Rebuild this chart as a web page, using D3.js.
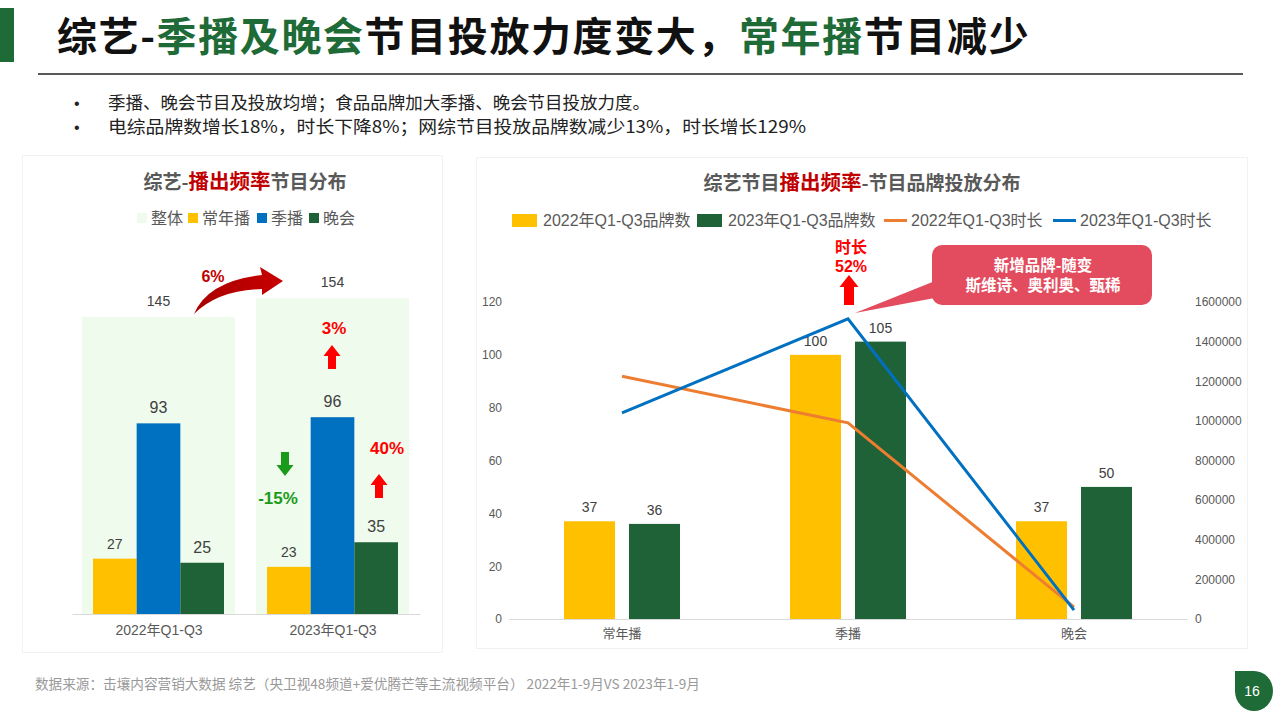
<!DOCTYPE html>
<html><head><meta charset="utf-8">
<script src="https://cdn.jsdelivr.net/npm/d3@7"></script>
<style>
body{margin:0;background:#fff;}
svg{display:block;}
text{font-family:"Liberation Sans","Noto Sans CJK SC",sans-serif;}
.cjk{font-family:"Noto Sans CJK SC","Liberation Sans",sans-serif;}
</style></head>
<body>
<svg id="c" width="1280" height="720"></svg>
<script>
// ---------- data ----------
const leftCategories = ["2022年Q1-Q3", "2023年Q1-Q3"];
const leftSeries = ["常年播", "季播", "晚会"];
const leftTotal = [145, 154];
const leftRegular = [27, 23];
const leftSeason = [93, 96];
const leftGala = [25, 35];

const rightCategories = ["常年播", "季播", "晚会"];
const brands2022 = [37, 100, 37];
const brands2023 = [36, 105, 50];
const duration2022 = [1225000, 990000, 60000];
const duration2023 = [1040000, 1515000, 45000];
const leftAxisTicks = [0, 20, 40, 60, 80, 100, 120];
const rightAxisTicks = [0, 200000, 400000, 600000, 800000, 1000000, 1200000, 1400000, 1600000];

const colors = {overall: "#effbec", regular: "#ffc000", season: "#0070c0", gala: "#1f6237",
  line22: "#ed7d31", line23: "#0070c0", green: "#1e6b37"};

const svg = d3.select("#c");

// ---------- header ----------
svg.append("rect").attr("x", 0).attr("y", 8).attr("width", 14).attr("height", 54).attr("fill", colors.green);
const title = svg.append("text").attr("class", "cjk").attr("x", 57).attr("y", 51)
  .attr("font-size", 40).attr("font-weight", 700).attr("letter-spacing", 1.6);
[["综艺-", "#111"], ["季播及晚会", colors.green], ["节目投放力度变大，", "#111"], ["常年播", colors.green], ["节目减少", "#111"]]
  .forEach(([t, c]) => title.append("tspan").attr("fill", c).text(t));
svg.append("line").attr("x1", 38).attr("x2", 1243).attr("y1", 74).attr("y2", 74).attr("stroke", "#222").attr("stroke-width", 1.5);

const bullets = ["季播、晚会节目及投放均增；食品品牌加大季播、晚会节目投放力度。",
  "电综品牌数增长18%，时长下降8%；网综节目投放品牌数减少13%，时长增长129%"];
const bulletLen = [542, 698];
bullets.forEach((b, i) => {
  svg.append("text").attr("x", 74).attr("y", 109 + i * 24).attr("font-size", 16).attr("fill", "#222").text("•");
  svg.append("text").attr("class", "cjk").attr("x", 108).attr("y", 109 + i * 24).attr("font-size", 17.5)
    .attr("textLength", bulletLen[i]).attr("lengthAdjust", "spacingAndGlyphs").attr("fill", "#222").text(b);
});

// ---------- panels ----------
svg.append("rect").attr("x", 22.5).attr("y", 155.5).attr("width", 420).attr("height", 497).attr("fill", "#fff").attr("stroke", "#f2f2f2");
svg.append("rect").attr("x", 476.5).attr("y", 157.5).attr("width", 771).attr("height", 491).attr("fill", "#fff").attr("stroke", "#f2f2f2");

// ---------- left chart ----------
const lt = svg.append("text").attr("class", "cjk").attr("x", 245).attr("y", 189).attr("text-anchor", "middle")
  .attr("font-size", 19).attr("font-weight", 700);
lt.append("tspan").attr("fill", "#595959").text("综艺-");
lt.append("tspan").attr("fill", "#c00000").attr("font-size", 20.5).text("播出频率");
lt.append("tspan").attr("fill", "#595959").text("节目分布");

const lLegend = [["整体", colors.overall, 137], ["常年播", colors.regular, 188], ["季播", colors.season, 257], ["晚会", colors.gala, 309]];
lLegend.forEach(([t, c, x]) => {
  svg.append("rect").attr("x", x).attr("y", 213).attr("width", 10).attr("height", 10).attr("fill", c);
  svg.append("text").attr("class", "cjk").attr("x", x + 14).attr("y", 224).attr("font-size", 16).attr("fill", "#595959").text(t);
});

const lx0 = d3.scaleBand().domain(leftCategories).range([72, 420]);
const lxOverall = d3.scaleBand().domain(["整体"]).range([10, lx0.bandwidth() - 11]);
const lx1 = d3.scaleBand().domain(leftSeries).range([21, 152]);
const ly = d3.scaleLinear().domain([0, 180]).range([614, 245]);

const lg = svg.append("g");
leftCategories.forEach((cat, i) => {
  const g = lg.append("g").attr("transform", `translate(${lx0(cat)},0)`);
  g.append("rect").attr("x", lxOverall("整体")).attr("width", lxOverall.bandwidth())
    .attr("y", ly(leftTotal[i])).attr("height", ly(0) - ly(leftTotal[i])).attr("fill", colors.overall);
  g.append("text").attr("x", lxOverall("整体") + lxOverall.bandwidth() / 2).attr("y", ly(leftTotal[i]) - 11)
    .attr("text-anchor", "middle").attr("font-size", 14).attr("fill", "#404040").text(leftTotal[i]);
  const vals = [leftRegular[i], leftSeason[i], leftGala[i]];
  const cols = [colors.regular, colors.season, colors.gala];
  leftSeries.forEach((s, j) => {
    g.append("rect").attr("x", lx1(s)).attr("width", lx1.bandwidth())
      .attr("y", ly(vals[j])).attr("height", ly(0) - ly(vals[j])).attr("fill", cols[j]);
    g.append("text").attr("x", lx1(s) + lx1.bandwidth() / 2).attr("y", ly(vals[j]) - 10)
      .attr("text-anchor", "middle").attr("font-size", j === 0 ? 14 : 16).attr("fill", "#404040").text(vals[j]);
  });
});
const lAxis = svg.append("g").attr("transform", "translate(0,614)")
  .call(d3.axisBottom(lx0).tickSize(0).tickPadding(11));
lAxis.select(".domain").attr("stroke", "#d9d9d9");
lAxis.selectAll("text").attr("font-size", 14).attr("fill", "#595959").attr("font-family", "Liberation Sans, Noto Sans CJK SC");

// annotations left
const defs = svg.append("defs");
const grad = defs.append("linearGradient").attr("id", "rg").attr("x1", "0").attr("x2", "1").attr("y1", "0").attr("y2", "0");
grad.append("stop").attr("offset", "0").attr("stop-color", "#a80000");
grad.append("stop").attr("offset", "1").attr("stop-color", "#c80000");
svg.append("path").attr("fill", "url(#rg)")
  .attr("d", "M194,314 Q208,281 262,275 L260,267 L283,281 L262,295 L262,289 Q218,290 194,314 Z");
svg.append("text").attr("x", 213).attr("y", 282).attr("text-anchor", "middle").attr("font-size", 16)
  .attr("font-weight", 700).attr("fill", "#c00000").text("6%");

function blockArrow(cx, top, bottom, up, shaftW, headW, headH, color) {
  let pts;
  if (up) {
    pts = [[cx, top], [cx + headW / 2, top + headH], [cx + shaftW / 2, top + headH], [cx + shaftW / 2, bottom],
      [cx - shaftW / 2, bottom], [cx - shaftW / 2, top + headH], [cx - headW / 2, top + headH]];
  } else {
    pts = [[cx, bottom], [cx + headW / 2, bottom - headH], [cx + shaftW / 2, bottom - headH], [cx + shaftW / 2, top],
      [cx - shaftW / 2, top], [cx - shaftW / 2, bottom - headH], [cx - headW / 2, bottom - headH]];
  }
  svg.append("polygon").attr("points", pts.map(p => p.join(",")).join(" ")).attr("fill", color);
}
blockArrow(332, 345, 369, true, 8, 17, 11, "#ff0000");
blockArrow(379, 474, 498, true, 8, 17, 11, "#ff0000");
blockArrow(285, 452, 476, false, 8, 17, 11, "#1a9a1a");
[["3%", 334, 334, "#ff0000"], ["40%", 387, 454, "#ff0000"], ["-15%", 278, 504, "#1a9a1a"]].forEach(([t, x, y, c]) =>
  svg.append("text").attr("x", x).attr("y", y).attr("text-anchor", "middle").attr("font-size", 17)
    .attr("font-weight", 700).attr("fill", c).text(t));

// ---------- right chart ----------
const rt = svg.append("text").attr("class", "cjk").attr("x", 862).attr("y", 190).attr("text-anchor", "middle")
  .attr("font-size", 19).attr("font-weight", 700);
rt.append("tspan").attr("fill", "#595959").text("综艺节目");
rt.append("tspan").attr("fill", "#c00000").attr("font-size", 20.5).text("播出频率");
rt.append("tspan").attr("fill", "#595959").text("-节目品牌投放分布");

const rLegend = [["2022年Q1-Q3品牌数", colors.regular, "bar", 512], ["2023年Q1-Q3品牌数", colors.gala, "bar", 697],
  ["2022年Q1-Q3时长", colors.line22, "line", 884], ["2023年Q1-Q3时长", colors.line23, "line", 1053]];
rLegend.forEach(([t, c, type, x]) => {
  if (type === "bar") svg.append("rect").attr("x", x).attr("y", 214).attr("width", 25).attr("height", 13).attr("fill", c);
  else svg.append("line").attr("x1", x).attr("x2", x + 23).attr("y1", 220.5).attr("y2", 220.5).attr("stroke", c).attr("stroke-width", 3);
  svg.append("text").attr("x", x + (type === "bar" ? 31 : 27)).attr("y", 226).attr("font-size", 16).attr("fill", "#595959").text(t);
});

const rx0 = d3.scaleBand().domain(rightCategories).range([509, 1187]);
const rx1 = d3.scaleBand().domain(["b22", "b23"]).range([rx0.bandwidth() / 2 - 58, rx0.bandwidth() / 2 + 58]).paddingInner(0.215);
const ryL = d3.scaleLinear().domain([0, 120]).range([619, 302]);
const ryR = d3.scaleLinear().domain([0, 1600000]).range([619, 302]);

const axL = svg.append("g").attr("transform", "translate(509,0)")
  .call(d3.axisLeft(ryL).tickValues(leftAxisTicks).tickSize(0).tickPadding(7));
axL.select(".domain").remove();
axL.selectAll("text").attr("font-size", 12).attr("fill", "#595959").attr("font-family", "Liberation Sans");
const axR = svg.append("g").attr("transform", "translate(1187,0)")
  .call(d3.axisRight(ryR).tickValues(rightAxisTicks).tickSize(0).tickPadding(8).tickFormat(d3.format("d")));
axR.select(".domain").remove();
axR.selectAll("text").attr("font-size", 12).attr("fill", "#595959").attr("font-family", "Liberation Sans");

const rg = svg.append("g");
rightCategories.forEach((cat, i) => {
  const g = rg.append("g").attr("transform", `translate(${rx0(cat)},0)`);
  [["b22", brands2022[i], colors.regular], ["b23", brands2023[i], colors.gala]].forEach(([k, v, c]) => {
    g.append("rect").attr("x", rx1(k)).attr("width", rx1.bandwidth()).attr("y", ryL(v)).attr("height", ryL(0) - ryL(v)).attr("fill", c);
    g.append("text").attr("x", rx1(k) + rx1.bandwidth() / 2).attr("y", ryL(v) - 9).attr("text-anchor", "middle")
      .attr("font-size", 14).attr("fill", "#404040").text(v);
  });
});
const axB = svg.append("g").attr("transform", "translate(0,619)")
  .call(d3.axisBottom(rx0).tickSize(0).tickPadding(10));
axB.select(".domain").attr("stroke", "#d9d9d9");
axB.selectAll("text").attr("font-size", 13).attr("fill", "#595959").attr("font-family", "Noto Sans CJK SC");

const line = d3.line().x((d, i) => rx0(rightCategories[i]) + rx0.bandwidth() / 2).y(d => ryR(d));
svg.append("path").datum(duration2022).attr("d", line).attr("fill", "none").attr("stroke", colors.line22).attr("stroke-width", 3);
svg.append("path").datum(duration2023).attr("d", line).attr("fill", "none").attr("stroke", colors.line23).attr("stroke-width", 3);

// annotations right
blockArrow(849, 275, 305, true, 10, 19, 12, "#ff0000");
svg.append("text").attr("class", "cjk").attr("x", 851).attr("y", 253).attr("text-anchor", "middle").attr("font-size", 16).attr("font-weight", 700).attr("fill", "#ff0000").text("时长");
svg.append("text").attr("x", 851).attr("y", 272).attr("text-anchor", "middle").attr("font-size", 16).attr("font-weight", 700).attr("fill", "#ff0000").text("52%");

svg.append("polygon").attr("points", "940,279 940,297 855,313").attr("fill", "#e34c5e");
svg.append("rect").attr("x", 932).attr("y", 245).attr("width", 220).attr("height", 60).attr("rx", 10).attr("fill", "#e34c5e");
svg.append("text").attr("class", "cjk").attr("x", 1043).attr("y", 271).attr("text-anchor", "middle").attr("font-size", 15.5).attr("font-weight", 700).attr("fill", "#fff").text("新增品牌-随变");
svg.append("text").attr("class", "cjk").attr("x", 1043).attr("y", 291).attr("text-anchor", "middle").attr("font-size", 15.5).attr("font-weight", 700).attr("fill", "#fff").text("斯维诗、奥利奥、甄稀");

// ---------- footer ----------
svg.append("text").attr("class", "cjk").attr("x", 35).attr("y", 689).attr("font-size", 13.5).attr("fill", "#999")
  .attr("textLength", 665).attr("lengthAdjust", "spacingAndGlyphs")
  .text("数据来源：击壤内容营销大数据 综艺（央卫视48频道+爱优腾芒等主流视频平台） 2022年1-9月VS 2023年1-9月");
svg.append("path").attr("fill", colors.green)
  .attr("d", "M1235,671 L1254,671 A19,20 0 0 1 1273,691 A19,20 0 0 1 1254,711 A19,20 0 0 1 1235,691 Z");
svg.append("text").attr("x", 1252).attr("y", 696).attr("text-anchor", "middle").attr("font-size", 14).attr("fill", "#fff").text("16");
</script>
</body></html>
